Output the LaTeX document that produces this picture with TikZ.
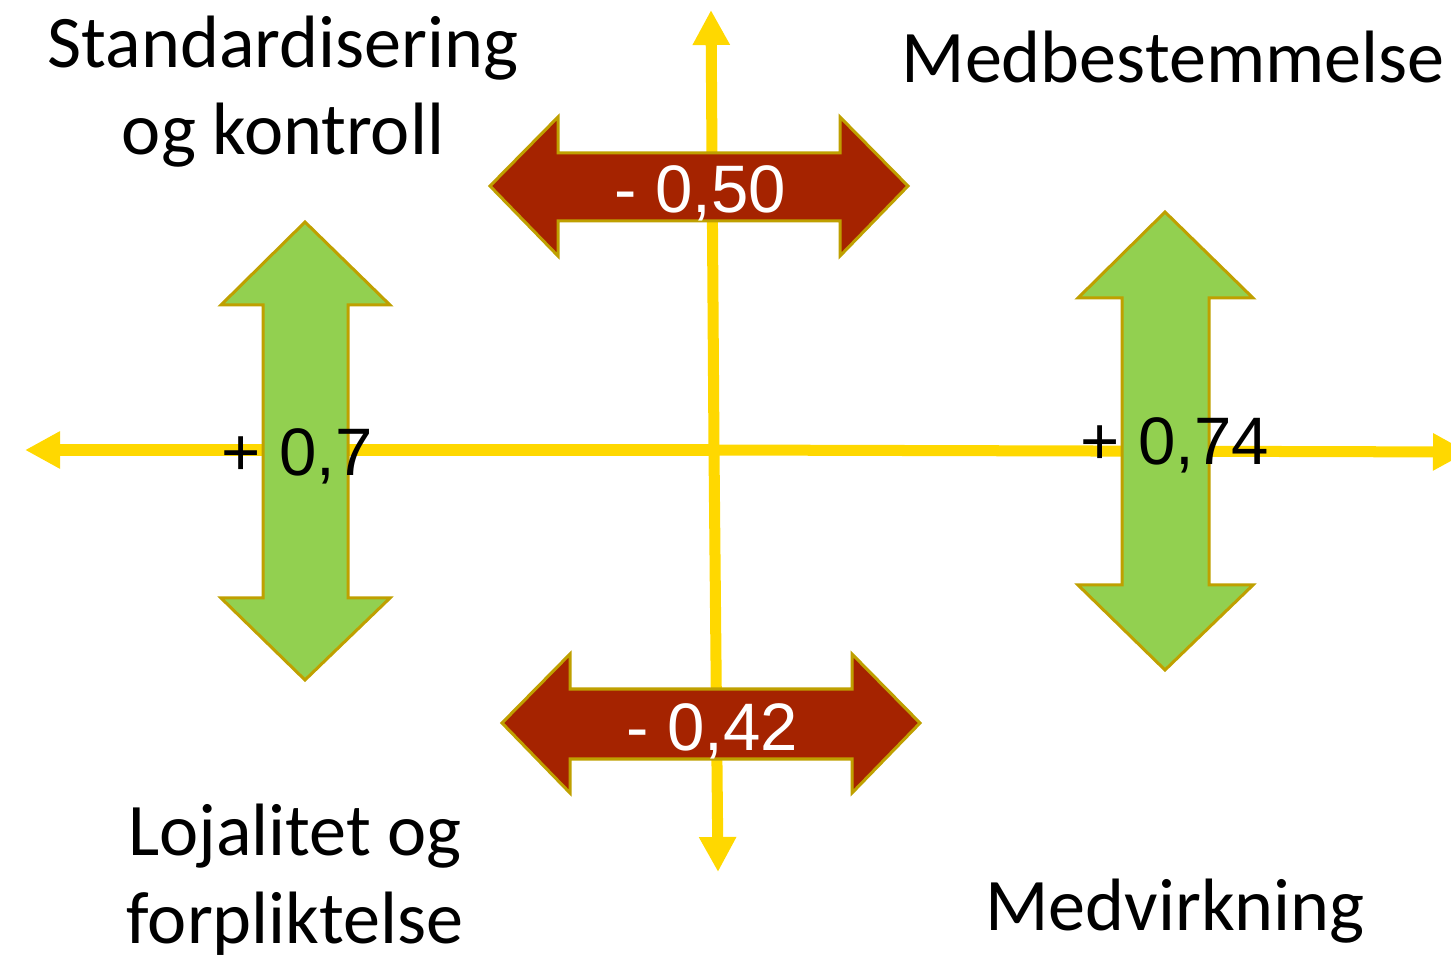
\documentclass[tikz,border=0pt]{standalone}
\usepackage{fontspec}
\setmainfont{Carlito}
\newfontfamily\numfont{Liberation Sans}
\usetikzlibrary{arrows.meta}
\definecolor{axisyellow}{HTML}{FFD800}
\definecolor{arrowred}{HTML}{A52300}
\definecolor{arrowgreen}{HTML}{92D050}
\definecolor{arrowedge}{HTML}{BFA000}
\tikzset{
  axisline/.style={draw=axisyellow, line width=0.11cm, -{Triangle[length=0.35cm,width=0.35cm]}},
  redarrow/.style={fill=arrowred, draw=arrowedge, line width=0.03cm, line join=miter},
  greenarrow/.style={fill=arrowgreen, draw=arrowedge, line width=0.03cm, line join=miter},
  label/.style={font=\fontsize{21.1}{24.75}\selectfont, align=center, inner sep=0pt},
  valuetext/.style={font=\numfont\fontsize{19.1}{22}\selectfont, inner sep=0pt},
}
\begin{document}
\begin{tikzpicture}[x=0.01cm,y=-0.01cm]
\useasboundingbox (0,0) rectangle (1451,955);
% axes
\coordinate (center) at (714,450);
\coordinate (leftend) at (25,450);
\coordinate (rightend) at (1468,452);
\coordinate (topend) at (711,10);
\coordinate (bottomend) at (718,872);
\draw[axisline] (center) -- (leftend);
\draw[axisline] (center) -- (rightend);
\draw[axisline] (center) -- (topend);
\draw[axisline] (center) -- (bottomend);
% green arrows
\draw[greenarrow] (305,222) -- (390,305) -- (348,305) -- (348,598) -- (390,598) -- (305,680) -- (221,598) -- (263,598) -- (263,305) -- (221,305) -- cycle;
\draw[greenarrow] (1165,212) -- (1253,298) -- (1209,298) -- (1209,585) -- (1253,585) -- (1165,670) -- (1078,585) -- (1122,585) -- (1122,298) -- (1078,298) -- cycle;
% red arrows
\draw[redarrow] (490,186) -- (558,117) -- (558,153) -- (840,153) -- (840,117) -- (908,186) -- (840,256) -- (840,221) -- (558,221) -- (558,256) -- cycle;
\draw[redarrow] (502,723) -- (570,654) -- (570,689) -- (852,689) -- (852,654) -- (920,723) -- (852,793) -- (852,759) -- (570,759) -- (570,793) -- cycle;
% values
\node[valuetext, text=white, anchor=base] (v50) at (700,213) {- 0,50};
\node[valuetext, text=white, anchor=base] (v42) at (712,750) {- 0,42};
\node[valuetext, anchor=base] (v7) at (297,476) {+ 0,7};
\node[valuetext, anchor=base] (v74) at (1175,465) {+ 0,74};
% labels
\node[label, anchor=base] (tl) at (283,155) {Standardisering\\og kontroll};
\node[label, anchor=base] (tr) at (1173,83) {Medbestemmelse};
\node[label, anchor=base] (bl) at (295,943) {Lojalitet og\\forpliktelse};
\node[label, anchor=base] (br) at (1175,930) {Medvirkning};
\end{tikzpicture}
\end{document}
